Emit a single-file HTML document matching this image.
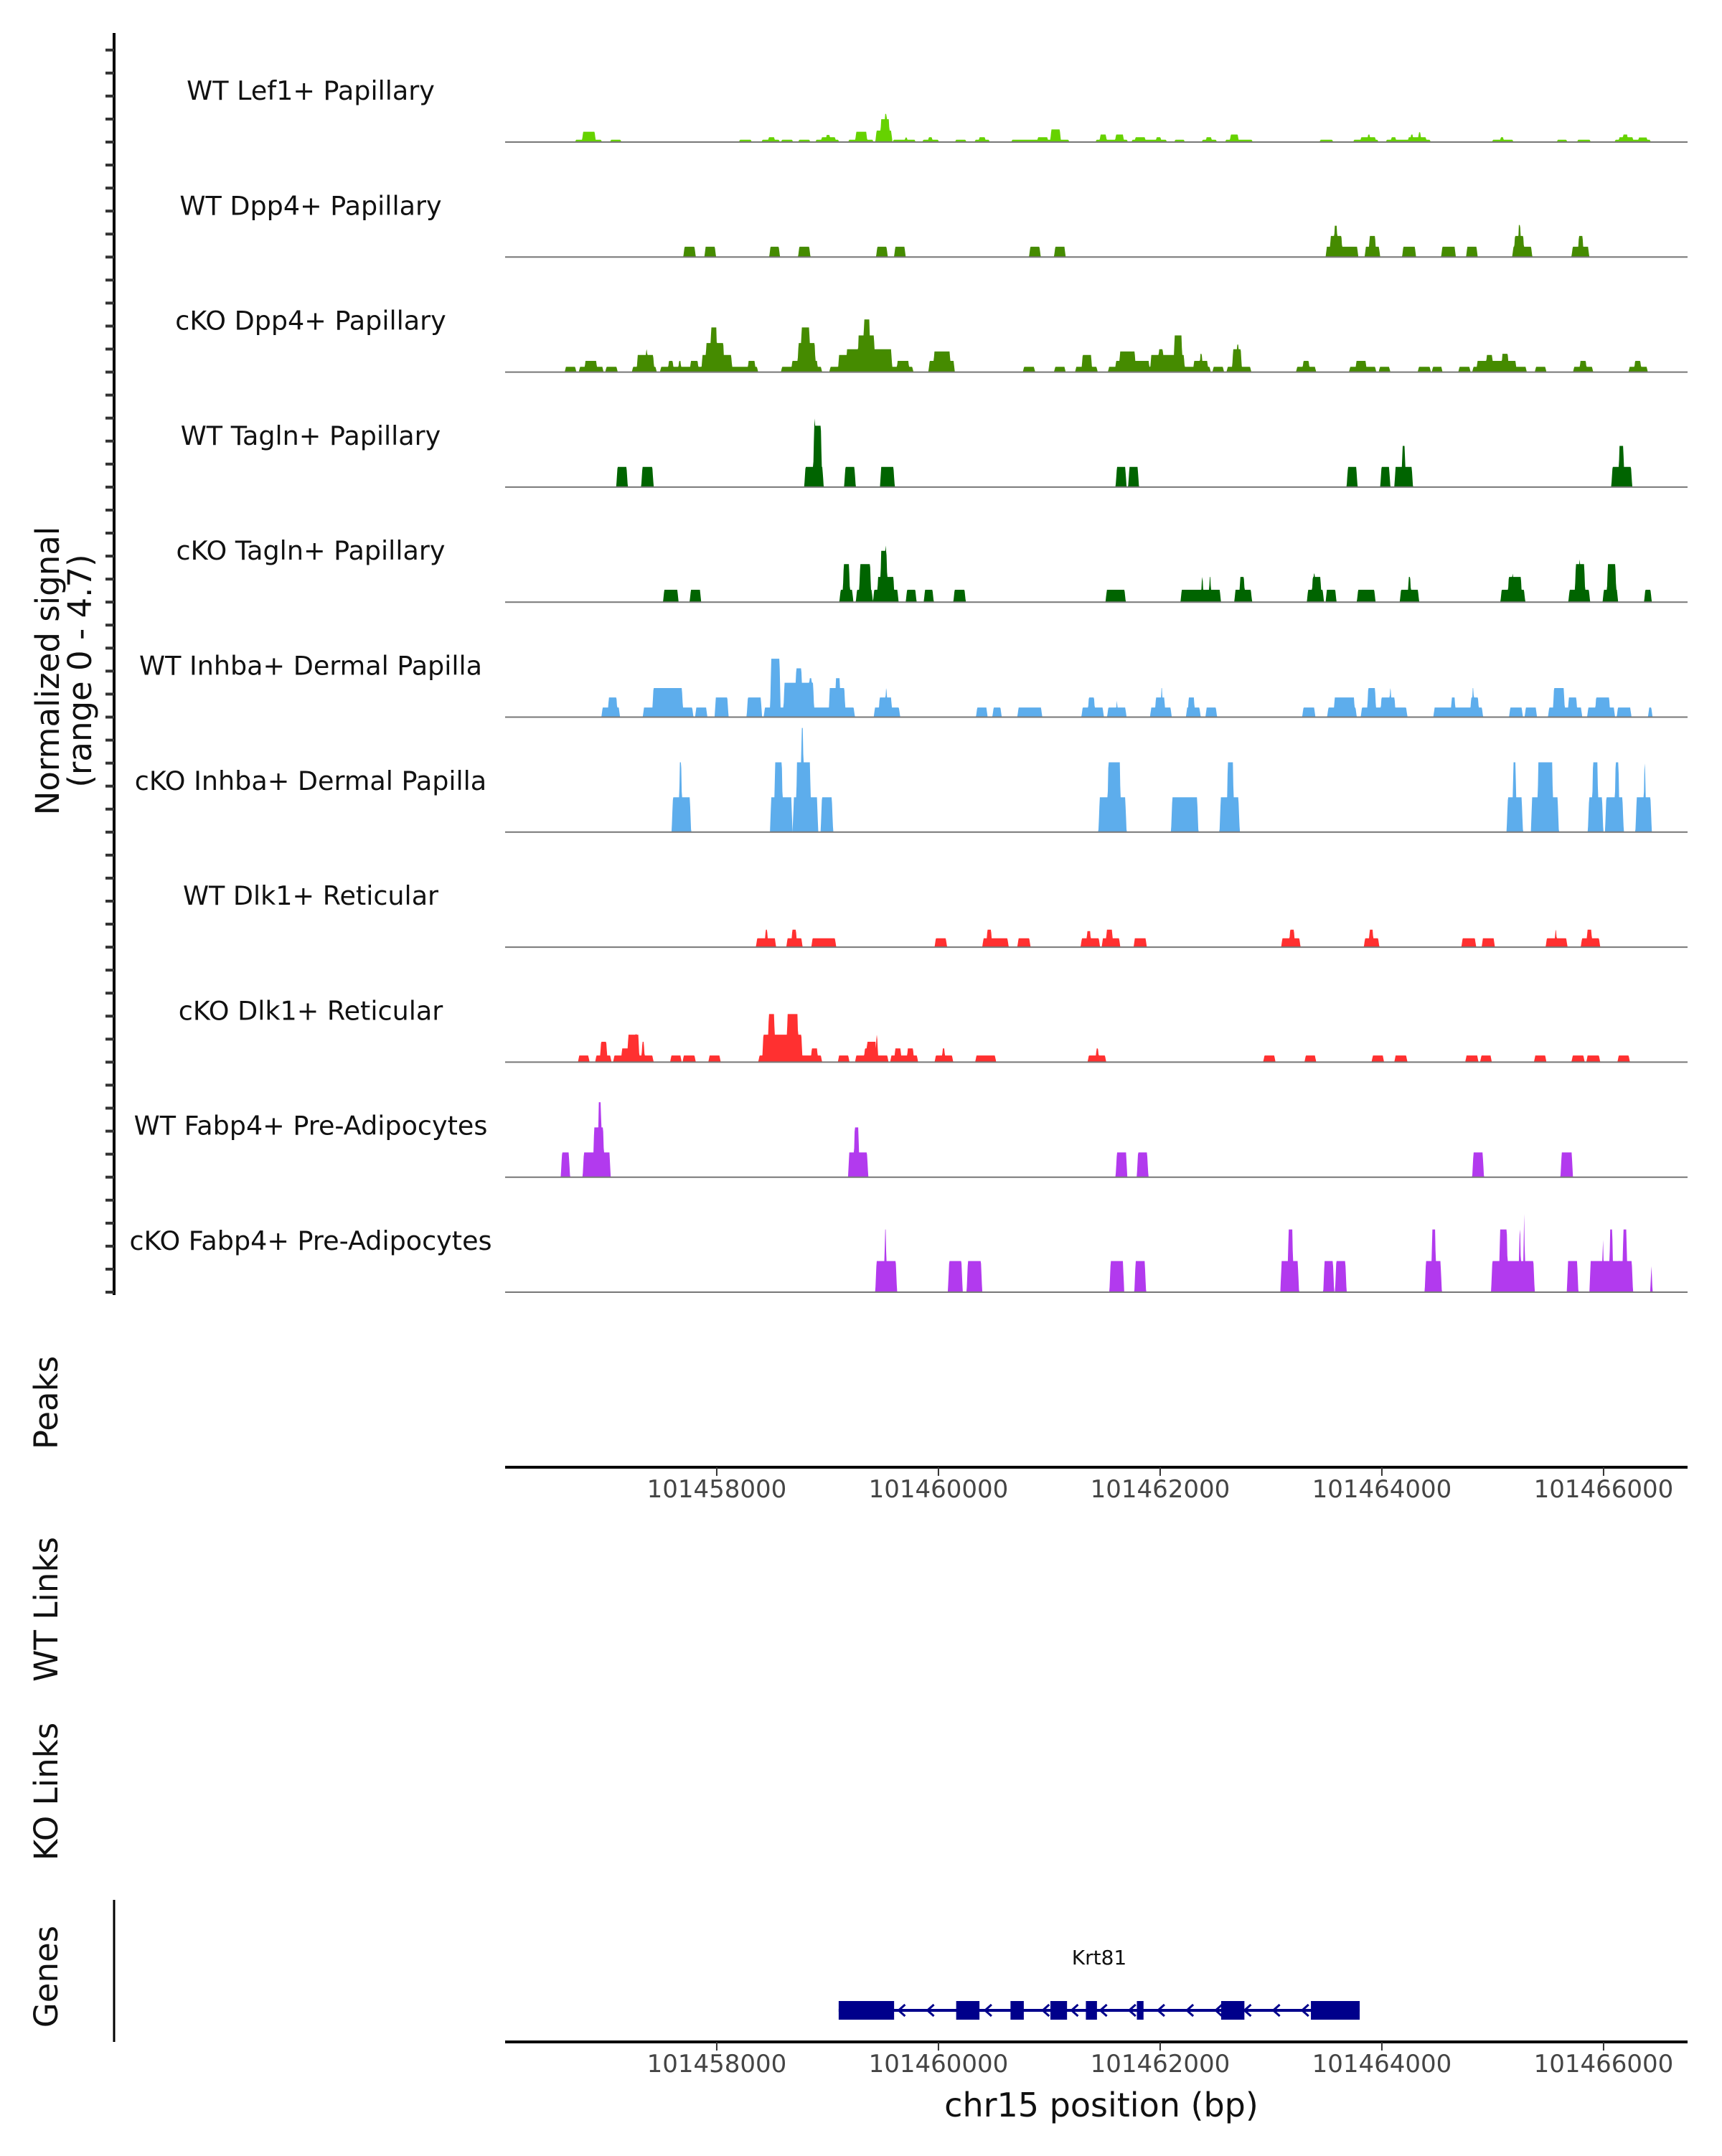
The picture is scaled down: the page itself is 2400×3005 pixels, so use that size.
<!DOCTYPE html>
<html><head><meta charset="utf-8">
<style>
html,body{margin:0;padding:0;background:#fff;}
svg text{font-family:"DejaVu Sans","Liberation Sans",sans-serif;}
</style></head>
<body>
<svg id="chart" width="2400" height="3000" viewBox="0 0 2400 3000" xmlns="http://www.w3.org/2000/svg">
<rect width="2400" height="3000" fill="#fff"/>
<g id="tracks"></g>
<g id="leftaxis"></g>
<text transform="translate(82,935) rotate(-90)" text-anchor="middle" font-size="45" fill="#111">Normalized signal</text>
<text transform="translate(127,935) rotate(-90)" text-anchor="middle" font-size="45" fill="#111">(range 0 - 4.7)</text>
<text transform="translate(80,1955) rotate(-90)" text-anchor="middle" font-size="45" fill="#111">Peaks</text>
<text transform="translate(80,2243) rotate(-90)" text-anchor="middle" font-size="45" fill="#111">WT Links</text>
<text transform="translate(80,2497) rotate(-90)" text-anchor="middle" font-size="45" fill="#111">KO Links</text>
<text transform="translate(80,2755) rotate(-90)" text-anchor="middle" font-size="45" fill="#111">Genes</text>
<line x1="159" y1="2648" x2="159" y2="2846" stroke="#000" stroke-width="3"/>
<g id="xaxes"></g>
<text x="1535" y="2950" text-anchor="middle" font-size="46" fill="#111">chr15 position (bp)</text>
<g id="gene"></g>
</svg>
<script>
const NS="http://www.w3.org/2000/svg";
const BASE=101456000;
const trackNames=["WT Lef1+ Papillary","WT Dpp4+ Papillary","cKO Dpp4+ Papillary","WT Tagln+ Papillary","cKO Tagln+ Papillary","WT Inhba+ Dermal Papilla","cKO Inhba+ Dermal Papilla","WT Dlk1+ Reticular","cKO Dlk1+ Reticular","WT Fabp4+ Pre-Adipocytes","cKO Fabp4+ Pre-Adipocytes"];
const trackColors=["#66d200","#458b00","#458b00","#006400","#006400","#5dadec","#5dadec","#ff3030","#ff3030","#b23aee","#b23aee"];
const xTicks=[101458000,101460000,101462000,101464000,101466000];
const xTickLabels=["101458000","101460000","101462000","101464000","101466000"];
const yMax=4.7;
// blocks: [start offset bp, end offset bp, value]
const lef1=[[720,966,.1],[783,910,.45],[1036,1142,.1],[2198,2318,.1],[2402,2571,.1],[2459,2529,.21],[2578,2691,.1],[2733,2846,.1],[2888,3106,.1],[2937,3078,.21],[2980,3029,.31],[3184,3416,.1],[3247,3360,.45],[3430,3585,.5],[3472,3564,1.0],[3507,3543,1.23],[3585,3796,.1],[3691,3726,.2],[3853,4007,.1],[3902,3951,.21],[4148,4254,.1],[4324,4465,.1],[4359,4430,.21],[4655,5183,.1],[4887,4993,.21],[5007,5106,.55],[5415,5711,.1],[5451,5521,.33],[5591,5676,.33],[5739,6063,.1],[5767,5873,.21],[5957,6014,.21],[6126,6225,.1],[6373,6514,.1],[6408,6471,.21],[6584,6837,.1],[6626,6711,.33],[7436,7563,.1],[7739,7971,.1],[7802,7950,.21],[7865,7900,.33],[8034,8443,.1],[8077,8133,.21],[8231,8407,.21],[8253,8288,.33],[8323,8358,.43],[8992,9189,.1],[9062,9104,.21],[9576,9675,.1],[9759,9886,.1],[10097,10428,.1],[10132,10273,.21],[10167,10224,.33],[10308,10400,.2]];
const wtDpp4=[[1698,1811,.45],[1888,1994,.45],[2473,2571,.45],[2733,2846,.45],[3437,3543,.45],[3599,3705,.45],[4817,4923,.45],[5042,5148,.45],[7492,7788,.45],[7527,7647,.92],[7563,7605,1.37],[7844,7985,.45],[7879,7950,.92],[8182,8309,.45],[8534,8668,.45],[8759,8865,.45],[9175,9358,.45],[9189,9287,.92],[9224,9259,1.4],[9710,9872,.45],[9766,9822,.92]];
const koDpp4=[[628,734,.23],[755,980,.23],[804,924,.49],[994,1107,.23],[1234,1459,.23],[1276,1438,.75],[1353,1382,1.0],[1487,2374,.23],[1557,1614,.49],[1649,1684,.49],[1755,1839,.49],[1860,2142,.75],[1895,2071,1.27],[1938,2008,1.95],[2276,2353,.49],[2578,2951,.23],[2670,2916,.49],[2726,2895,1.27],[2754,2846,1.95],[3015,3775,.23],[3092,3585,.75],[3163,3550,1.0],[3268,3430,1.6],[3318,3388,2.3],[3346,3367,2.5],[3444,3585,1.0],[3620,3740,.49],[3909,4148,.49],[3951,4113,.9],[4761,4873,.23],[5042,5148,.23],[5232,5437,.23],[5289,5388,.75],[5528,6457,.23],[5591,5908,.49],[5627,5782,.9],[5908,6225,.75],[5978,6035,1.0],[6119,6204,1.6],[6295,6436,.49],[6352,6387,.8],[6471,6577,.23],[6598,6823,.23],[6647,6739,1.0],[6683,6718,1.2],[7225,7408,.23],[7281,7351,.49],[7703,7950,.23],[7759,7865,.49],[7971,8077,.23],[8323,8443,.23],[8450,8548,.23],[8689,8801,.23],[8815,9308,.23],[8851,9217,.49],[8935,9006,.75],[9076,9147,.8],[9379,9485,.23],[9724,9907,.23],[9780,9851,.49],[10224,10400,.23],[10273,10343,.49]];
const wtTagln=[[1093,1198,.88],[1318,1431,.88],[2789,2965,.88],[2867,2951,2.68],[2874,2895,3.6],[3149,3254,.88],[3472,3606,.88],[5598,5697,.88],[5711,5809,.88],[7682,7781,.88],[7985,8077,.88],[8112,8281,.88],[8175,8217,1.8],[10069,10259,.88],[10132,10189,1.8]];
const koTagln=[[1515,1656,.54],[1755,1860,.54],[3106,3233,.54],[3134,3205,1.66],[3254,3409,.54],[3282,3395,1.66],[3409,3641,.54],[3444,3606,1.1],[3472,3543,2.24],[3515,3536,3.3],[3705,3803,.54],[3867,3958,.54],[4134,4247,.54],[5507,5690,.54],[6183,6549,.54],[6366,6394,1.1],[6436,6464,1.1],[6668,6830,.54],[6711,6767,1.1],[7323,7478,.54],[7365,7457,1.1],[7379,7401,1.66],[7492,7591,.54],[7774,7943,.54],[8161,8337,.54],[8231,8267,1.1],[9069,9294,.54],[9133,9266,1.1],[9168,9189,1.66],[9682,9879,.54],[9738,9837,1.66],[9773,9794,2.24],[9991,10132,.54],[10027,10118,1.66],[10365,10435,.54]];
const wtInhba=[[959,1128,.42],[1015,1107,.86],[1332,1790,.42],[1417,1698,1.27],[1804,1916,.42],[1980,2107,.86],[2269,2409,.86],[2423,3247,.42],[2480,2578,2.55],[2599,2881,1.5],[2705,2775,2.13],[2825,2867,1.7],[3008,3163,1.27],[3064,3120,1.7],[3092,3113,2.13],[3416,3655,.42],[3458,3585,.86],[3515,3543,1.27],[4338,4444,.42],[4486,4571,.42],[4711,4937,.42],[5289,5493,.42],[5345,5415,.86],[5521,5697,.42],[5598,5620,.86],[5908,6105,.42],[5950,6049,.86],[6000,6028,1.27],[6232,6366,.42],[6246,6316,.86],[6408,6514,.42],[7281,7401,.42],[7506,7774,.42],[7563,7760,.86],[7809,8231,.42],[7865,7950,1.27],[7985,8126,.86],[8063,8091,1.27],[8464,8914,.42],[8619,8668,.86],[8794,8879,.86],[8808,8837,1.27],[9147,9273,.42],[9287,9400,.42],[9498,9808,.42],[9541,9653,1.27],[9675,9766,.86],[9851,10104,.42],[9921,10062,.86],[10118,10252,.42],[10400,10442,.42]];
const koInhba=[[1593,1769,1.52],[1656,1691,3.05],[2480,2684,1.52],[2515,2599,3.05],[2684,2916,1.52],[2712,2853,3.05],[2754,2789,4.55],[2937,3050,1.52],[5443,5697,1.52],[5521,5648,3.05],[5549,5563,4.5],[6098,6345,1.52],[6535,6718,1.52],[6598,6668,3.05],[9125,9273,1.52],[9175,9217,3.05],[9344,9597,1.52],[9400,9548,3.05],[9435,9449,4.55],[9858,9998,1.52],[9893,9956,3.05],[10013,10182,1.52],[10097,10146,3.05],[10287,10435,1.52],[10357,10386,3.0]];
const wtDlk1=[[2353,2536,.39],[2430,2466,.76],[2627,2775,.39],[2670,2726,.76],[2853,3078,.39],[3965,4078,.39],[4395,4634,.39],[4430,4486,.76],[4711,4831,.39],[5282,5458,.39],[5331,5380,.7],[5472,5641,.39],[5507,5577,.76],[5760,5880,.39],[7091,7267,.39],[7161,7218,.76],[7837,7978,.39],[7879,7928,.76],[8717,8851,.39],[8900,9020,.39],[9477,9675,.39],[9555,9583,.76],[9794,9970,.39],[9843,9900,.76]];
const koDlk1=[[748,853,.29],[903,1051,.29],[945,1015,.89],[1065,1431,.29],[1135,1262,.6],[1191,1304,1.2],[1262,1283,1.48],[1318,1353,.89],[1579,1684,.29],[1691,1811,.29],[1924,2036,.29],[2374,2951,.29],[2409,2775,1.2],[2458,2529,2.1],[2627,2740,2.1],[2846,2916,.6],[3092,3198,.29],[3247,3550,.29],[3325,3444,.6],[3346,3444,.89],[3430,3458,1.2],[3564,3817,.29],[3599,3669,.6],[3712,3782,.6],[3965,4134,.29],[4028,4064,.6],[4331,4521,.29],[5345,5514,.29],[5415,5451,.6],[6929,7041,.29],[7302,7408,.29],[7907,8020,.29],[8112,8231,.29],[8752,8872,.29],[8886,8992,.29],[9372,9485,.29],[9710,9830,.29],[9844,9970,.29],[10125,10238,.29]];
const wtFabp4=[[593,677,1.08],[790,1044,1.08],[882,987,2.17],[924,966,3.27],[3184,3367,1.08],[3233,3289,2.17],[5598,5704,1.08],[5789,5894,1.08],[8815,8921,1.08],[9611,9724,1.08]];
const koFabp4=[[3430,3627,1.36],[3507,3536,2.74],[4085,4219,1.36],[4254,4395,1.36],[5542,5676,1.36],[5767,5873,1.36],[7084,7253,1.36],[7147,7204,2.74],[7471,7570,1.36],[7577,7682,1.36],[8386,8541,1.36],[8443,8492,2.74],[8985,9379,1.36],[9055,9139,2.74],[9231,9259,2.74],[9273,9294,4.1],[9668,9773,1.36],[9872,10266,1.36],[9984,10006,2.74],[10048,10090,2.74],[10132,10146,2.74],[10167,10217,2.74],[10421,10442,1.36]];
const trackData=[lef1,wtDpp4,koDpp4,wtTagln,koTagln,wtInhba,koInhba,wtDlk1,koDlk1,wtFabp4,koFabp4];
const geneExons=[[101459100,101459600],[101460160,101460370],[101460650,101460770],[101461010,101461160],[101461330,101461430],[101461790,101461850],[101462550,101462760],[101463360,101463800]];
const geneStart=101459100, geneEnd=101463800;

const X0=704, X1=2352, BP0=101456091, PXPERBP=0.1545;
function xs(bp){return X0+(bp-BP0)*PXPERBP;}
const firstBase=198, trackStep=160.3, trackH=150;
function ys(v,i){return firstBase+i*trackStep - v/yMax*trackH;}

const tg=document.getElementById('tracks');
trackData.forEach((blocks,i)=>{
  const g=document.createElementNS(NS,'g');
  
  
  const lbl=document.createElementNS(NS,'text');
  
  
  lbl.setAttribute('x',433);lbl.setAttribute('y',firstBase+i*trackStep-59);
  lbl.setAttribute('text-anchor','middle');lbl.setAttribute('font-size','36.5');lbl.setAttribute('fill','#111');
  lbl.textContent=trackNames[i];g.appendChild(lbl);
  const ramp=12, step=4;
  let pts=[];
  for(let o=0;o<=10800;o+=step){
    let v=0;
    for(const b of blocks){
      const s=b[0],e=b[1],h=b[2];
      if(o<s||o>e) continue;
      let f=Math.min(1,(o-s)/ramp,(e-o)/ramp);
      v=Math.max(v,h*f);
    }
    pts.push([xs(BASE+o),ys(v,i)]);
  }
  const yb=ys(0,i);
  let d='M'+xs(BASE)+','+yb+' '+pts.map(p=>'L'+p[0].toFixed(1)+','+p[1].toFixed(1)).join(' ')+' L'+xs(BASE+10800)+','+yb+'Z';
  const path=document.createElementNS(NS,'path');
  
  
  path.setAttribute('d',d);path.setAttribute('fill',trackColors[i]);
  g.appendChild(path);
  const bl=document.createElementNS(NS,'line');
  
  
  bl.setAttribute('x1',X0);bl.setAttribute('x2',X1);bl.setAttribute('y1',yb);bl.setAttribute('y2',yb);
  bl.setAttribute('stroke','#777');bl.setAttribute('stroke-width','2');
  g.appendChild(bl);
  tg.appendChild(g);
});

const la=document.getElementById('leftaxis');
const vl=document.createElementNS(NS,'line');


vl.setAttribute('x1',159);vl.setAttribute('x2',159);vl.setAttribute('y1',46);vl.setAttribute('y2',1805);
vl.setAttribute('stroke','#000');vl.setAttribute('stroke-width','4');la.appendChild(vl);
for(let y=firstBase+10*trackStep;y>=65;y-=trackStep/5){
  const t=document.createElementNS(NS,'line');
  
  
  t.setAttribute('x1',147);t.setAttribute('x2',159);t.setAttribute('y1',y);t.setAttribute('y2',y);
  t.setAttribute('stroke','#333');t.setAttribute('stroke-width','4');la.appendChild(t);
}

const xa=document.getElementById('xaxes');
[2045,2846].forEach((ay,k)=>{
  const l=document.createElementNS(NS,'line');
  
  
  l.setAttribute('x1',X0);l.setAttribute('x2',X1);l.setAttribute('y1',ay);l.setAttribute('y2',ay);
  l.setAttribute('stroke','#000');l.setAttribute('stroke-width','4');xa.appendChild(l);
  xTicks.forEach((t,j)=>{
    const tk=document.createElementNS(NS,'line');
    
    
    tk.setAttribute('x1',xs(t));tk.setAttribute('x2',xs(t));tk.setAttribute('y1',ay);tk.setAttribute('y2',ay+12);
    tk.setAttribute('stroke','#333');tk.setAttribute('stroke-width','2');xa.appendChild(tk);
    const tx=document.createElementNS(NS,'text');
    
    
    tx.setAttribute('x',xs(t));tx.setAttribute('y',ay+42);tx.setAttribute('text-anchor','middle');
    tx.setAttribute('font-size','34');tx.setAttribute('fill','#444');tx.textContent=xTickLabels[j];xa.appendChild(tx);
  });
});

const gg=document.getElementById('gene');
const gy=2802;
const gl=document.createElementNS(NS,'line');


gl.setAttribute('x1',xs(geneStart));gl.setAttribute('x2',xs(geneEnd));gl.setAttribute('y1',gy);gl.setAttribute('y2',gy);
gl.setAttribute('stroke','#00008b');gl.setAttribute('stroke-width','4');gg.appendChild(gl);
for(let p=geneStart+300;p<geneEnd;p+=260){
  const a=document.createElementNS(NS,'path');
  
  
  const x=xs(p);
  a.setAttribute('d',`M${x+6},${gy-8} L${x-3},${gy} L${x+6},${gy+8}`);
  a.setAttribute('stroke','#00008b');a.setAttribute('stroke-width','3');a.setAttribute('fill','none');gg.appendChild(a);
}
geneExons.forEach(e=>{
  const r=document.createElementNS(NS,'rect');
  
  
  r.setAttribute('x',xs(e[0]));r.setAttribute('width',xs(e[1])-xs(e[0]));
  r.setAttribute('y',gy-13);r.setAttribute('height',26);r.setAttribute('fill','#00008b');gg.appendChild(r);
});
const gt=document.createElementNS(NS,'text');


gt.setAttribute('x',(xs(geneStart)+xs(geneEnd))/2);gt.setAttribute('y',2738);gt.setAttribute('text-anchor','middle');
gt.setAttribute('font-size','28');gt.setAttribute('fill','#111');gt.textContent='Krt81';gg.appendChild(gt);
</script>
</body></html>
